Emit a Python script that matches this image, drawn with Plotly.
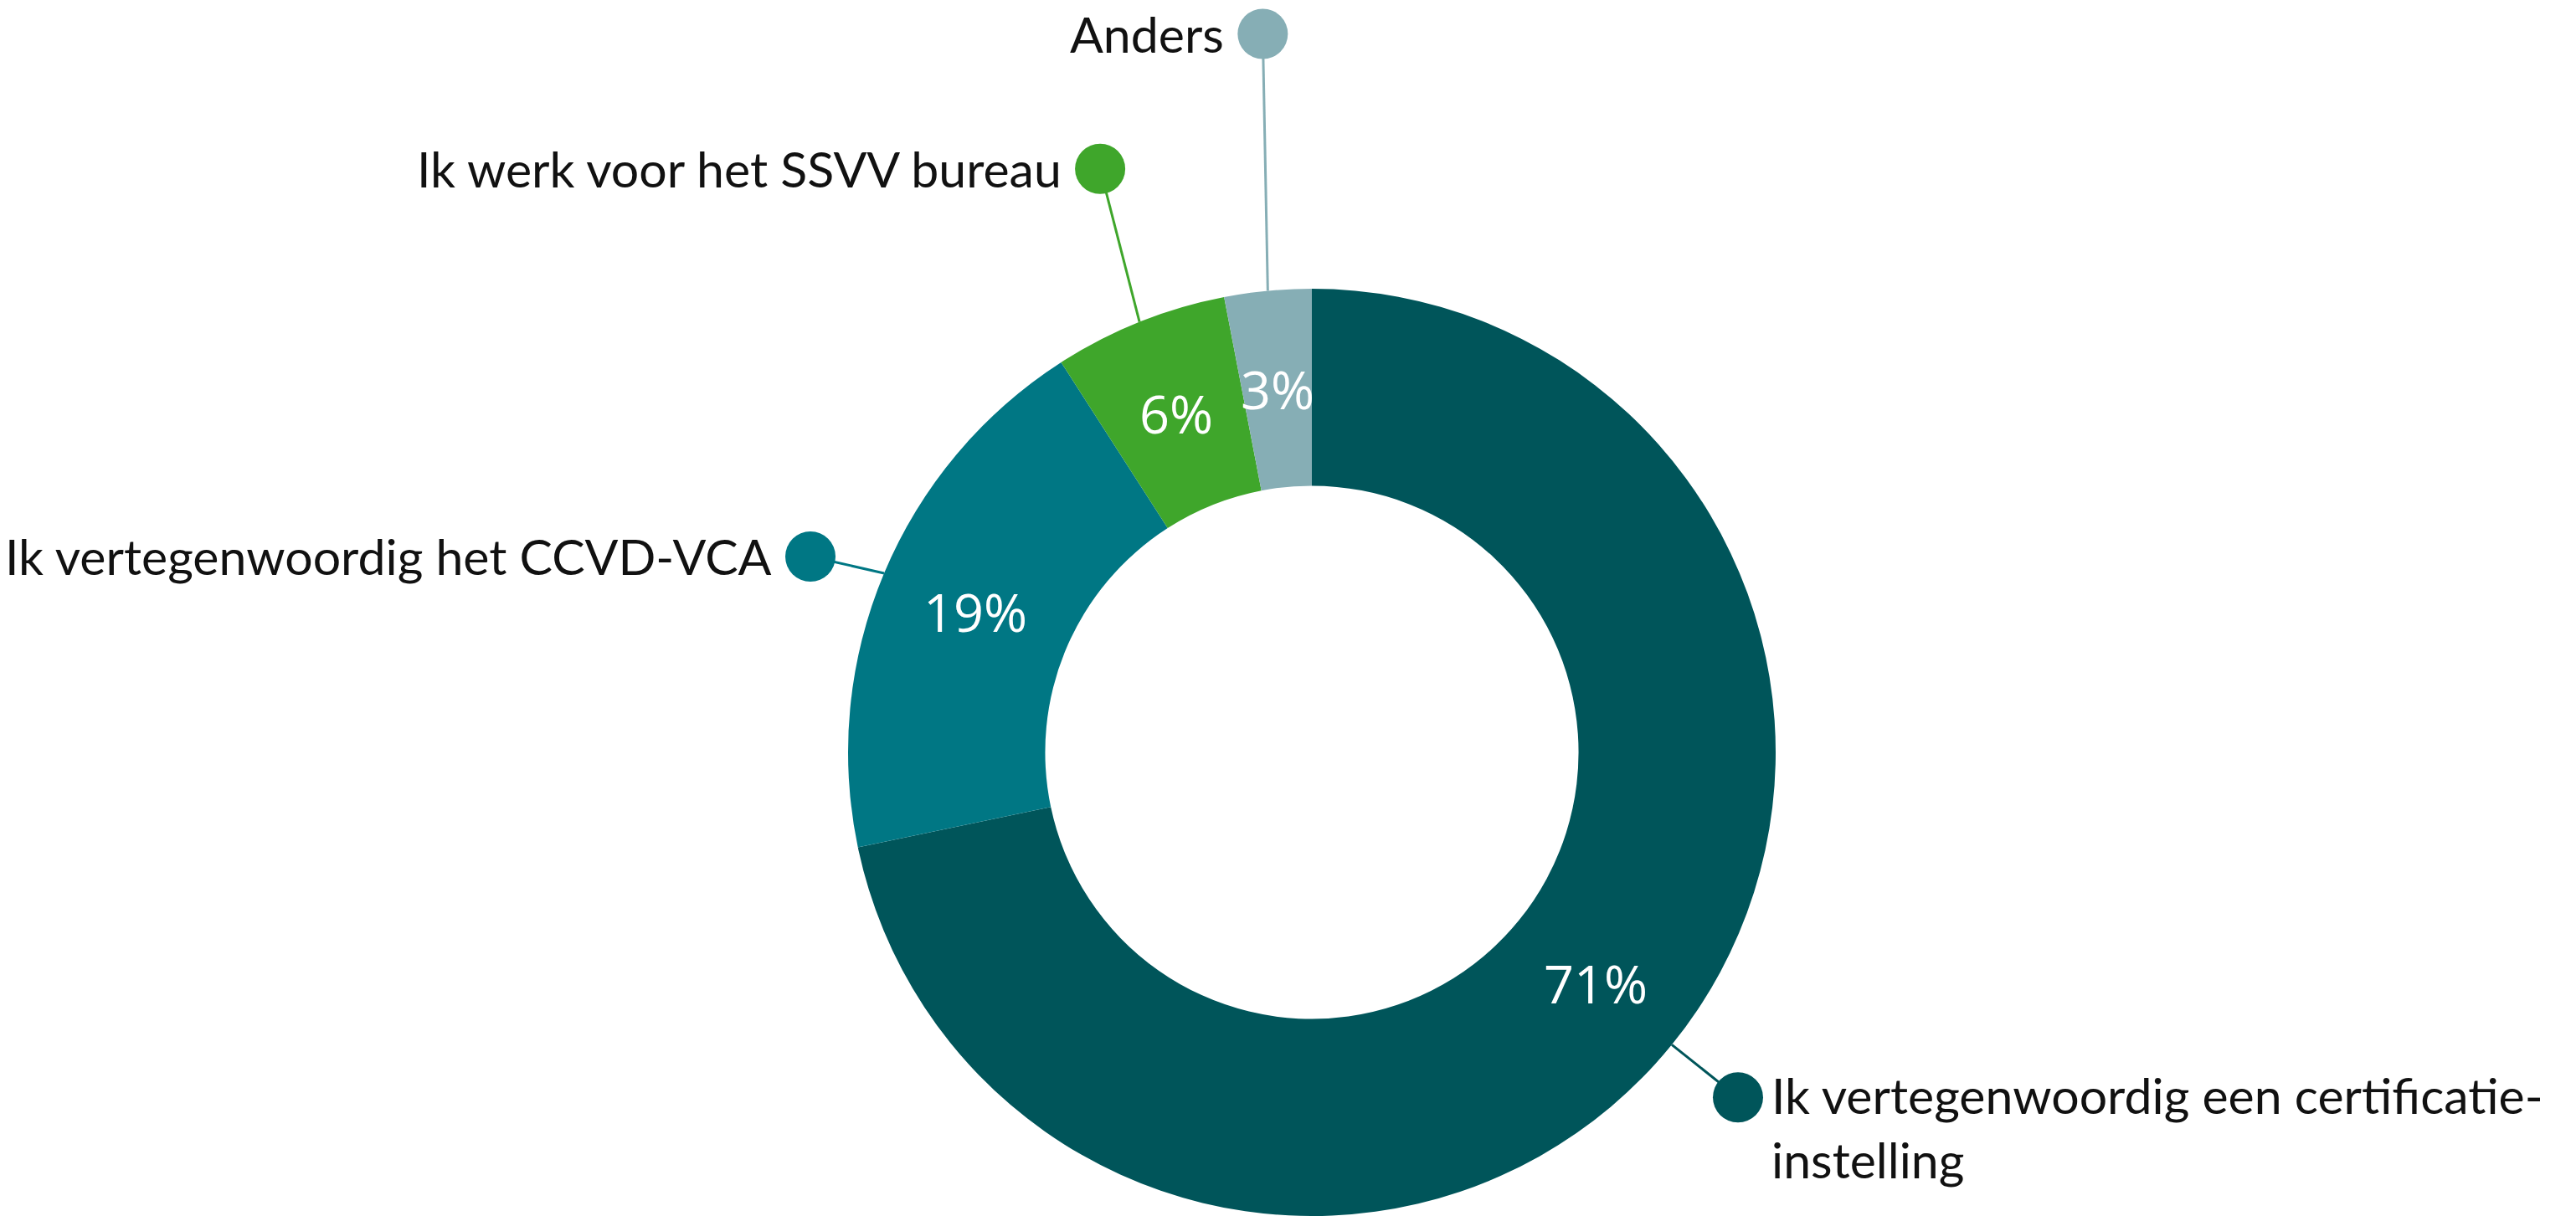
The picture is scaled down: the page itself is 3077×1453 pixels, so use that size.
import math
import plotly.graph_objects as go

# ---- data ----
categories = [
    "Ik vertegenwoordig een certificatie-<br>instelling",
    "Ik vertegenwoordig het CCVD-VCA",
    "Ik werk voor het SSVV bureau",
    "Anders",
]
values = [71, 19, 6, 3]
pct_labels = ["71%", "19%", "6%", "3%"]
colors = ["#00555A", "#007784", "#3FA62B", "#86AEB5"]

# ---- layout constants (pixels) ----
W, H = 3077, 1453
CX, CY = 1567, 899          # donut centre (y measured from top)
R = 554                     # outer radius
HOLE = 0.575
# offset of leader dot from slice edge anchor, and text side
leader_offsets = [(79, 63), (-88, -20), (-47, -183), (-6, -307)]
text_side = ["right", "left", "left", "left"]
TEXT_GAP = 44
LABEL_FONT = dict(family="Lato, 'Open Sans', sans-serif", size=59, color="#111111")
PCT_FONT = dict(family="'Open Sans', Lato, sans-serif", size=63, color="#FFFFFF")

fig = go.Figure()

fig.add_trace(go.Pie(
    labels=categories,
    values=values,
    sort=False,
    direction="clockwise",
    rotation=0,
    hole=HOLE,
    marker=dict(colors=colors, line=dict(width=0)),
    textinfo="none",
    hoverinfo="label+value",
    showlegend=False,
    domain=dict(x=[(CX - R) / W, (CX + R) / W],
                y=[max(0, (H - CY - R)) / H, (H - CY + R) / H]),
))

total = sum(values)
cum = 0
annotations = []
for i, v in enumerate(values):
    mid = (cum + v / 2) / total * 2 * math.pi
    cum += v
    s, c = math.sin(mid), math.cos(mid)
    # percentage label in middle of ring
    rm = R * (1 + HOLE) / 2
    annotations.append(dict(
        x=CX + rm * s, y=CY - rm * c, xref="x", yref="y",
        text=pct_labels[i], showarrow=False, font=PCT_FONT,
        xanchor="center", yanchor="middle"))
    # leader line + dot
    ax, ay = CX + R * s, CY - R * c
    dx, dy = leader_offsets[i]
    px, py = ax + dx, ay + dy
    fig.add_trace(go.Scatter(
        x=[ax, px], y=[ay, py], mode="lines",
        line=dict(color=colors[i], width=3),
        hoverinfo="skip", showlegend=False))
    fig.add_trace(go.Scatter(
        x=[px], y=[py], mode="markers",
        marker=dict(color=colors[i], size=60, line=dict(width=0)),
        hoverinfo="skip", showlegend=False))
    if text_side[i] == "left":
        annotations.append(dict(
            x=px - TEXT_GAP, y=py, xref="x", yref="y", text=categories[i],
            showarrow=False, font=LABEL_FONT, xanchor="right", yanchor="middle",
            align="right"))
    else:
        annotations.append(dict(
            x=px + TEXT_GAP - 6, y=py + 36, xref="x", yref="y", text=categories[i],
            showarrow=False, font=LABEL_FONT, xanchor="left", yanchor="middle",
            align="left"))

fig.update_layout(
    width=W, height=H,
    margin=dict(l=0, r=0, t=0, b=0),
    paper_bgcolor="white", plot_bgcolor="rgba(0,0,0,0)",
    xaxis=dict(range=[0, W], visible=False, fixedrange=True),
    yaxis=dict(range=[H, 0], visible=False, fixedrange=True),
    annotations=annotations,
    showlegend=False,
)

fig.write_html("out.html", config=dict(displayModeBar=False),
               post_script="document.body.style.margin='0';")
